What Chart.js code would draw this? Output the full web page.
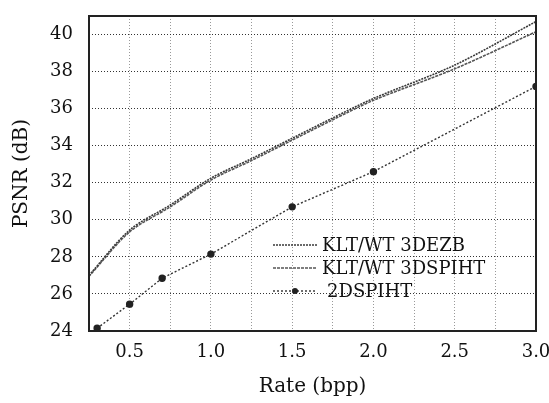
<!DOCTYPE html>
<html>
<head>
<meta charset="utf-8">
<script src="https://cdn.jsdelivr.net/npm/chart.js@4"></script>
<style>
  html, body { margin: 0; padding: 0; background: #fff; }
  #wrap { width: 549px; height: 403px; }
</style>
</head>
<body>
<div id="wrap"><canvas id="chart" width="549" height="403"></canvas></div>
<script>
// rates (bpp)
const rate3D = [0.25, 0.5, 0.75, 1.0, 1.25, 1.5, 1.75, 2.0, 2.5, 3.0];
const rate2D = [0.3, 0.5, 0.7, 1.0, 1.5, 2.0, 3.0];

// PSNR (dB)
const psnrEZB   = [27.0, 29.45, 30.8, 32.25, 33.3, 34.4, 35.5, 36.55, 38.35, 40.7];
const psnrSPIHT = [26.95, 29.35, 30.7, 32.15, 33.2, 34.3, 35.4, 36.45, 38.15, 40.15];
const psnr2D    = [24.15, 25.45, 26.85, 28.15, 30.7, 32.6, 37.2];

const labels = ["KLT/WT 3DEZB", "KLT/WT 3DSPIHT", "2DSPIHT"];

const FONT = "'DejaVu Serif', serif";
const pts = (xs, ys) => xs.map((x, i) => ({ x, y: ys[i] }));

// legend drawn inside the plot, bottom right
const innerLegend = {
  id: "innerLegend",
  afterDraw(chart){
    const ctx = chart.ctx;
    const x0 = 273, x1 = 317;
    const ys = [245, 268, 291];
    const tx = [322, 322, 327];
    ctx.save();
    chart.data.datasets.forEach((ds, i) => {
      const y = ys[i];
      ctx.strokeStyle = ds.borderColor;
      ctx.lineWidth = ds.borderWidth;
      ctx.setLineDash(ds.borderDash || []);
      ctx.beginPath(); ctx.moveTo(x0, y); ctx.lineTo(x1, y); ctx.stroke();
      ctx.setLineDash([]);
      if (ds.pointRadius){
        ctx.fillStyle = ds.pointBackgroundColor;
        ctx.beginPath(); ctx.arc((x0+x1)/2, y, ds.pointRadius, 0, Math.PI*2); ctx.fill();
      }
      ctx.fillStyle = "#111";
      ctx.font = "18px " + FONT;
      ctx.textBaseline = "middle";
      ctx.fillText(ds.label, tx[i], y + 1);
    });
    ctx.restore();
  }
};

// heavy frame round the plot
const frame = {
  id: "frame",
  afterDatasetsDraw(chart){
    const a = chart.chartArea, ctx = chart.ctx;
    ctx.save();
    ctx.strokeStyle = "#222";
    ctx.lineWidth = 2;
    ctx.strokeRect(a.left, a.top, a.right - a.left, a.bottom - a.top);
    ctx.restore();
  }
};

new Chart(document.getElementById("chart"), {
  type: "line",
  data: {
    datasets: [
      { label: labels[0], data: pts(rate3D, psnrEZB), borderColor: "#3a3a3a", borderWidth: 1.6,
        borderDash: [2, 1], pointRadius: 0, tension: 0.3 },
      { label: labels[1], data: pts(rate3D, psnrSPIHT), borderColor: "#555", borderWidth: 1.6,
        borderDash: [3, 1], pointRadius: 0, tension: 0.3 },
      { label: labels[2], data: pts(rate2D, psnr2D), borderColor: "#333", borderWidth: 1.4,
        borderDash: [2, 2], pointRadius: 3, pointBackgroundColor: "#222", pointBorderColor: "#222",
        tension: 0 }
    ]
  },
  options: {
    responsive: false,
    animation: false,
    layout: { padding: { top: 16, right: 0, left: 0, bottom: 0 } },
    plugins: { legend: { display: false }, tooltip: { enabled: false } },
    scales: {
      x: {
        type: "linear", min: 0.25, max: 3.0,
        afterFit(s){ s.height = 72; s.paddingRight = 13; s.paddingLeft = 0; },
        grid: { color: "#999", lineWidth: 1, drawTicks: false },
        border: { display: false, dash: [1, 2] },
        ticks: { stepSize: 0.25, padding: 11, color: "#111", font: { family: FONT, size: 18 },
          callback: v => (Math.abs(v*2 - Math.round(v*2)) < 1e-6 && v > 0.3) ? v.toFixed(1) : "" },
        title: { display: true, text: "Rate (bpp)", color: "#111", font: { family: FONT, size: 20 },
          padding: { top: 6 } }
      },
      y: {
        min: 24, max: 41,
        afterFit(s){ s.width = 89; s.paddingTop = 0; s.paddingBottom = 0; },
        grid: { color: ctx => (ctx.tick && ctx.tick.value % 2 === 0) ? "#333" : "#999",
          lineWidth: 1, drawTicks: false },
        border: { display: false, dash: [1, 2] },
        ticks: { stepSize: 1, padding: 16, color: "#111", font: { family: FONT, size: 18 },
          callback: v => (v % 2 === 0 && v <= 40) ? String(v) : "" },
        title: { display: true, text: "PSNR (dB)", color: "#111", font: { family: FONT, size: 20 },
          padding: { top: 10, bottom: 0 } }
      }
    }
  },
  plugins: [frame, innerLegend]
});
</script>
</body>
</html>
